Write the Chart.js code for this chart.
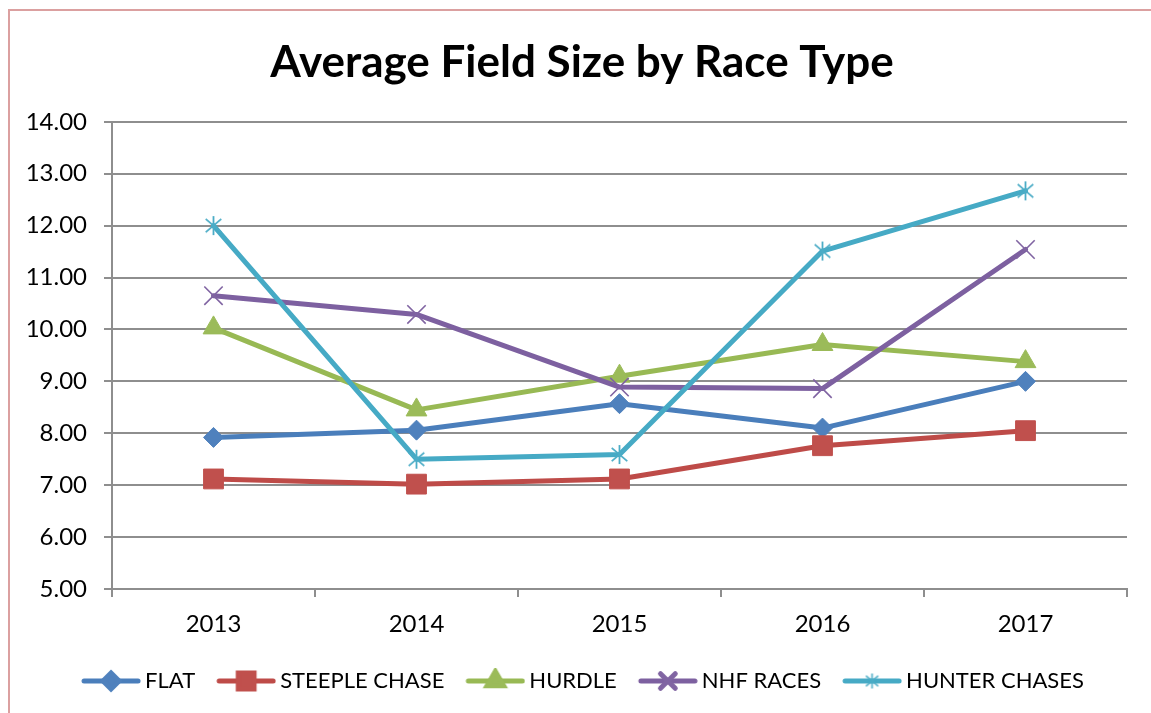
<!DOCTYPE html>
<html>
<head>
<meta charset="utf-8">
<script src="https://cdn.jsdelivr.net/npm/chart.js@4.4.0/dist/chart.umd.min.js"></script>
<style>
  html, body { margin: 0; padding: 0; background: #ffffff; }
  #wrap { position: relative; width: 1151px; height: 713px; overflow: hidden; }
  #frame { position: absolute; left: 8px; top: 9px; width: 1200px; height: 800px;
           border-left: 2px solid #DBA0A0; border-top: 2px solid #DBA0A0; box-sizing: border-box; }
  #c { position: absolute; left: 0; top: 0; }
</style>
</head>
<body>
<div id="wrap">
  <div id="frame"></div>
  <canvas id="c" width="1151" height="713"></canvas>
</div>
<script>
// ---- data ----
const categories = ['2013', '2014', '2015', '2016', '2017'];
const seriesNames = ['FLAT', 'STEEPLE CHASE', 'HURDLE', 'NHF RACES', 'HUNTER CHASES'];
const flat = [7.92, 8.06, 8.57, 8.10, 9.00];
const steepleChase = [7.12, 7.02, 7.12, 7.76, 8.05];
const hurdle = [10.03, 8.45, 9.10, 9.71, 9.38];
const nhfRaces = [10.65, 10.29, 8.89, 8.86, 11.54];
const hunterChases = [12.00, 7.50, 7.59, 11.51, 12.67];
const yMin = 5, yMax = 14, yStep = 1;

// ---- styles ----
const colors = ['#4A7EBB', '#BE4B48', '#98B954', '#7D60A0', '#46AAC5'];
const markerColors = ['#4F81BD', '#C0504D', '#9BBB59', '#8064A2', '#4BACC6'];
const FONT = "Lato, 'Open Sans', 'Noto Sans', sans-serif";

function asteriskCanvas(color, half, lw) {
  const s = Math.ceil(half * 2 + 4);
  const cv = document.createElement('canvas');
  cv.width = s; cv.height = s;
  const ctx = cv.getContext('2d');
  const c = s / 2;
  ctx.strokeStyle = color; ctx.lineWidth = lw; ctx.lineCap = 'butt';
  ctx.beginPath();
  ctx.moveTo(c, c - half); ctx.lineTo(c, c + half);
  const d = half * 0.82;
  ctx.moveTo(c - d, c - d * 0.85); ctx.lineTo(c + d, c + d * 0.85);
  ctx.moveTo(c - d, c + d * 0.85); ctx.lineTo(c + d, c - d * 0.85);
  ctx.stroke();
  return cv;
}

const hunterMarker = asteriskCanvas(markerColors[4], 9.5, 1.8);
const pointStyles = ['rectRot', 'rect', 'triangle', 'crossRot', hunterMarker];
const pointRadii = [10, 14, 12, 13, 10];
const pointBorderWidths = [1, 1, 1, 1.6, 1];

const LEG_MARGIN = 8, LEG_LINE = 60, LEG_H = 26;
function legendCanvas(i) {
  const w = LEG_LINE + LEG_MARGIN, h = LEG_H;
  const cv = document.createElement('canvas');
  cv.width = w; cv.height = h;
  const ctx = cv.getContext('2d');
  const x0 = LEG_MARGIN + 3, x1 = w - 3, cx = LEG_MARGIN + LEG_LINE / 2;
  ctx.strokeStyle = colors[i]; ctx.lineWidth = 5; ctx.lineCap = 'round';
  ctx.beginPath(); ctx.moveTo(x0, h / 2); ctx.lineTo(x1, h / 2); ctx.stroke();
  if (i === 4) {
    const m = asteriskCanvas(markerColors[4], 7.5, 1.6);
    ctx.drawImage(m, cx - m.width / 2, h / 2 - m.height / 2);
  } else {
    ctx.fillStyle = markerColors[i];
    ctx.strokeStyle = markerColors[i];
    Chart.helpers.drawPoint(ctx, {
      pointStyle: pointStyles[i], radius: pointRadii[i] * 0.8,
      borderWidth: pointBorderWidths[i], rotation: 0
    }, cx, h / 2);
  }
  return cv;
}

const seriesData = [flat, steepleChase, hurdle, nhfRaces, hunterChases];
const datasets = seriesData.map((d, i) => ({
  label: seriesNames[i],
  data: d,
  yAxisID: 'y',
  borderColor: colors[i],
  backgroundColor: markerColors[i],
  borderWidth: 5,
  borderCapStyle: 'round',
  borderJoinStyle: 'round',
  tension: 0,
  fill: false,
  pointStyle: pointStyles[i],
  pointRadius: pointRadii[i],
  pointBorderWidth: pointBorderWidths[i],
  pointBackgroundColor: markerColors[i],
  pointBorderColor: markerColors[i],
  order: 5 - i
}));

const legendImages = [0, 1, 2, 3, 4].map(legendCanvas);
const GRID = '#8E8E8E';

new Chart(document.getElementById('c'), {
  type: 'line',
  data: { labels: categories, datasets },
  options: {
    responsive: false,
    animation: false,
    events: [],
    layout: { padding: { left: 0, right: -13, top: 0, bottom: 11 } },
    plugins: {
      title: {
        display: true,
        text: 'Average Field Size by Race Type',
        color: '#000000',
        font: { family: FONT, size: 44, weight: 'bold', lineHeight: 1.2 },
        padding: { top: 36, bottom: 33 }
      },
      legend: {
        display: true,
        position: 'bottom',
        labels: {
          usePointStyle: true,
          pointStyleWidth: 54,
          padding: 20,
          color: '#000000',
          font: { family: FONT, size: 22 },
          sort: (a, b) => a.datasetIndex - b.datasetIndex,
          generateLabels: (chart) => {
            const items = Chart.defaults.plugins.legend.labels.generateLabels(chart);
            items.forEach(it => { it.pointStyle = legendImages[it.datasetIndex]; });
            return items;
          }
        }
      },
      tooltip: { enabled: false }
    },
    scales: {
      x: {
        type: 'category',
        offset: true,
        afterFit: (s) => { s.height = 61; },
        grid: { display: true, offset: true, drawOnChartArea: false, drawTicks: true,
                tickLength: 8, color: GRID, lineWidth: 2 },
        border: { display: true, color: GRID, width: 2 },
        ticks: { color: '#000000', padding: 13, font: { family: FONT, size: 24 } }
      },
      y: {
        position: 'left',
        min: yMin, max: yMax,
        afterFit: (s) => { s.width = 112; },
        grid: { color: GRID, lineWidth: 2, tickLength: 8, drawTicks: true },
        border: { display: true, color: GRID, width: 2 },
        ticks: { stepSize: yStep, color: '#000000', padding: 17,
                 font: { family: FONT, size: 24 },
                 callback: (v) => Number(v).toFixed(2) }
      },
      spacer: {
        type: 'linear',
        position: 'right',
        display: true,
        afterFit: (s) => { s.width = 37; },
        grid: { display: false, drawOnChartArea: false, drawTicks: false },
        border: { display: false },
        ticks: { display: false }
      }
    }
  }
});
</script>
</body>
</html>
